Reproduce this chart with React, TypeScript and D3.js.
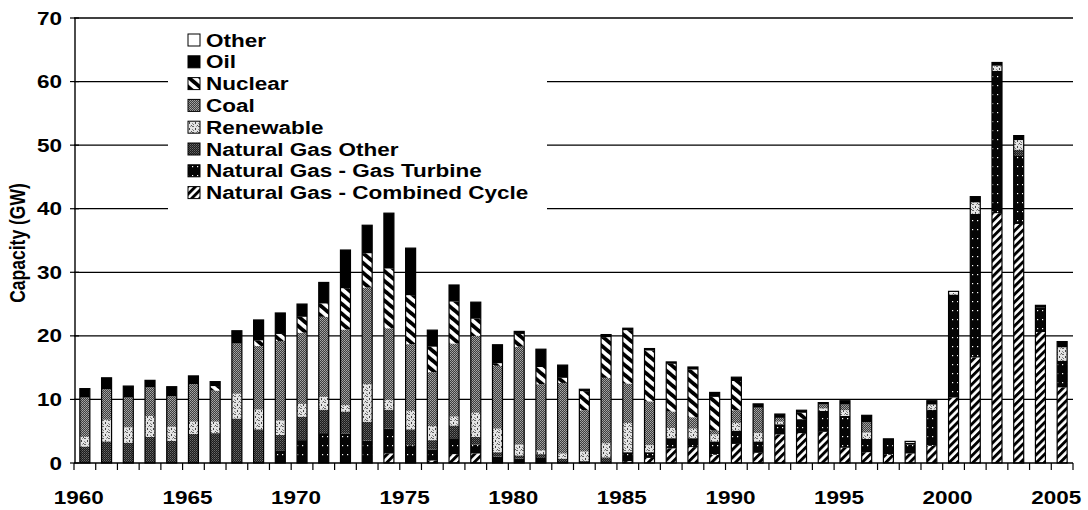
import * as d3 from "d3";

const years = [
  1960, 1961, 1962, 1963, 1964, 1965, 1966, 1967, 1968, 1969,
  1970, 1971, 1972, 1973, 1974, 1975, 1976, 1977, 1978, 1979,
  1980, 1981, 1982, 1983, 1984, 1985, 1986, 1987, 1988, 1989,
  1990, 1991, 1992, 1993, 1994, 1995, 1996, 1997, 1998, 1999,
  2000, 2001, 2002, 2003, 2004, 2005,
];

// GW added per year, one array per fuel
const combinedCycle = [
  0, 0, 0, 0, 0, 0, 0, 0, 0, 0,
  0, 0, 0, 0, 1.5, 0, 0.4, 1.4, 1.5, 0,
  0, 0, 0, 0, 0, 0.3, 0.8, 2.3, 2.5, 1.3,
  3.0, 1.6, 4.5, 4.7, 4.9, 2.4, 1.7, 1.3, 1.5, 2.7,
  10.3, 16.6, 39.3, 37.6, 20.6, 11.9,
];
const gasTurbine = [
  0, 0, 0, 0, 0, 0, 0, 0, 0, 2.0,
  3.6, 4.7, 4.6, 3.5, 3.9, 2.8, 1.7, 2.5, 1.4, 1.0,
  0.7, 0.8, 0, 0, 0, 1.4, 0.9, 1.6, 1.4, 2.1,
  2.1, 1.8, 1.6, 2.2, 3.3, 5.0, 2.1, 2.5, 1.4, 5.7,
  16.2, 22.6, 22.4, 10.7, 3.9, 4.2,
];
const gasOther = [
  2.6, 3.4, 3.2, 4.1, 3.5, 4.6, 4.7, 7.0, 5.3, 2.4,
  3.7, 3.7, 3.5, 3.0, 3.0, 2.5, 1.5, 2.0, 1.2, 0.7,
  0.5, 0.6, 0.7, 0.3, 0.9, 0, 0, 0, 0, 0,
  0, 0, 0, 0, 0, 0, 0, 0, 0, 0,
  0, 0, 0, 1.0, 0, 0,
];
const renewable = [
  1.5, 3.4, 2.4, 3.3, 2.2, 1.9, 1.8, 3.9, 3.1, 2.3,
  2.0, 2.0, 1.0, 5.9, 1.5, 2.9, 2.2, 1.4, 3.8, 3.7,
  1.7, 0.6, 0.8, 1.5, 2.2, 4.6, 1.1, 1.6, 1.5, 1.1,
  1.2, 1.3, 0.4, 0, 0.4, 0.9, 1.0, 0, 0, 0.8,
  0.3, 1.8, 0.8, 1.5, 0, 2.1,
];
const coal = [
  6.2, 4.8, 4.7, 4.5, 4.8, 5.9, 4.9, 7.9, 10.0, 12.5,
  11.2, 12.6, 11.9, 15.2, 11.3, 10.5, 8.5, 11.5, 12.1, 9.9,
  15.4, 10.4, 11.1, 6.5, 10.3, 6.2, 6.9, 2.6, 1.8, 0.6,
  2.0, 4.0, 0.6, 0, 0.6, 0.9, 1.6, 0, 0, 0,
  0, 0, 0, 0, 0, 0,
];
const nuclear = [
  0, 0, 0, 0, 0, 0, 0.7, 0, 0.9, 1.1,
  2.5, 2.1, 6.5, 5.4, 9.4, 7.7, 4.0, 6.6, 2.7, 0.4,
  2.0, 2.7, 0.8, 3.0, 6.4, 8.4, 8.0, 7.5, 7.5, 5.3,
  4.6, 0, 0, 1.0, 0, 0, 0, 0, 0, 0,
  0, 0, 0, 0, 0, 0,
];
const oil = [
  1.4, 1.8, 1.8, 1.1, 1.5, 1.3, 0.7, 2.0, 3.2, 3.3,
  2.0, 3.3, 6.0, 4.4, 8.7, 7.4, 2.6, 2.6, 2.6, 2.9,
  0.4, 2.8, 2.0, 0.3, 0.4, 0.3, 0.3, 0.3, 0.4, 0.7,
  0.6, 0.6, 0.6, 0.4, 0.3, 0.6, 1.1, 0, 0.3, 0.6,
  0, 0.9, 0.5, 0.7, 0.3, 0.9,
];
const other = [
  0, 0, 0, 0, 0, 0, 0, 0, 0, 0,
  0, 0, 0, 0, 0, 0, 0, 0, 0, 0,
  0, 0, 0, 0, 0, 0, 0, 0, 0, 0,
  0, 0, 0, 0, 0, 0, 0, 0, 0.2, 0,
  0.2, 0, 0, 0, 0, 0,
];

// stacking order, bottom first
const seriesKeys = ["cc", "gt", "ngo", "ren", "coal", "nuc", "oil", "other"];
const seriesValues: Record<string, number[]> = {
  cc: combinedCycle, gt: gasTurbine, ngo: gasOther, ren: renewable,
  coal, nuc: nuclear, oil, other,
};
const legendLabels = [
  ["other", "Other"],
  ["oil", "Oil"],
  ["nuc", "Nuclear"],
  ["coal", "Coal"],
  ["ren", "Renewable"],
  ["ngo", "Natural Gas Other"],
  ["gt", "Natural Gas - Gas Turbine"],
  ["cc", "Natural Gas - Combined Cycle"],
];
const yTicks = [0, 10, 20, 30, 40, 50, 60, 70];
const xLabelYears = [1960, 1965, 1970, 1975, 1980, 1985, 1990, 1995, 2000, 2005];

const W = 1088;
const H = 510;
const left = 74;
const right = 1073;
const top = 18;
const bottom = 463;
const FONT = "'Liberation Sans', Arial, Helvetica, sans-serif";
const SX = 1.25; // the scan is stretched sideways

const fills: Record<string, string> = {
  cc: "url(#pCC)", gt: "url(#pGT)", ngo: "url(#pNGO)", ren: "url(#pREN)",
  coal: "url(#pCOAL)", nuc: "url(#pNUC)", oil: "#000", other: "#fff",
};

function SText(props: { x: number; y: number; anchor?: string; size: number; children: any }) {
  return (
    <text
      transform={`translate(${props.x},${props.y}) scale(${SX},1)`}
      textAnchor={props.anchor || "start"}
      fontFamily={FONT}
      fontWeight="bold"
      fontSize={props.size}
      fill="#000"
    >
      {props.children}
    </text>
  );
}

export default function App() {
  const rows = years.map((yr, i) => {
    const r: any = { year: yr };
    seriesKeys.forEach((k) => (r[k] = seriesValues[k][i]));
    return r;
  });
  const stacked = d3.stack<any>().keys(seriesKeys)(rows);
  const totals = rows.map((r) => d3.sum(seriesKeys, (k) => r[k]));

  const x = d3.scaleBand<number>()
    .domain(years)
    .range([left, right])
    .paddingInner(0.54)
    .paddingOuter(0.27);
  const y = d3.scaleLinear().domain([0, 70]).range([bottom, top]);
  const step = x.step();

  const legX = 188;
  const legY0 = 40;
  const legStep = 21.8;

  return (
    <svg width={W} height={H} style={{ position: "absolute", left: 0, top: 0, background: "#fff" }}>
      <defs>
        <pattern id="pCC" patternUnits="userSpaceOnUse" width={5.6} height={5.6} patternTransform="rotate(45)">
          <rect width={5.6} height={5.6} fill="#fff" />
          <rect width={2.9} height={5.6} fill="#000" />
        </pattern>
        <pattern id="pNUC" patternUnits="userSpaceOnUse" width={7.5} height={7.5} patternTransform="rotate(-50)">
          <rect width={7.5} height={7.5} fill="#fff" />
          <rect width={3.8} height={7.5} fill="#000" />
        </pattern>
        <pattern id="pGT" patternUnits="userSpaceOnUse" width={5} height={9}>
          <rect width={5} height={9} fill="#050505" />
          <rect x={2} y={4} width={1.2} height={1.2} fill="#fff" />
        </pattern>
        <pattern id="pNGO" patternUnits="userSpaceOnUse" width={2} height={2}>
          <rect width={2} height={2} fill="#1c1c1c" />
          <rect x={0} y={0} width={1} height={1} fill="#6a6a6a" />
          <rect x={1} y={1} width={1} height={1} fill="#4a4a4a" />
        </pattern>
        <pattern id="pCOAL" patternUnits="userSpaceOnUse" width={2} height={2}>
          <rect width={2} height={2} fill="#3e3e3e" />
          <rect x={0} y={0} width={1} height={1} fill="#a8a8a8" />
          <rect x={1} y={1} width={1} height={1} fill="#949494" />
        </pattern>
        <pattern id="pREN" patternUnits="userSpaceOnUse" width={6} height={6}>
          <rect width={6} height={6} fill="#e4e4e4" />
          <rect x={0} y={0} width={2} height={1} fill="#666" />
          <rect x={3} y={2} width={1} height={2} fill="#444" />
          <rect x={1} y={4} width={1} height={1} fill="#777" />
          <rect x={5} y={5} width={1} height={1} fill="#555" />
          <rect x={4} y={0} width={1} height={1} fill="#999" />
          <rect x={0} y={3} width={1} height={1} fill="#888" />
        </pattern>
      </defs>

      {/* gridlines */}
      {yTicks.filter((t) => t > 0).map((t) => (
        <line key={t} x1={left} x2={right} y1={y(t)} y2={y(t)} stroke="#000" strokeWidth={1.3} />
      ))}

      {/* legend backdrop hides the gridlines behind it */}
      <rect x={168} y={24} width={379} height={189} fill="#fff" />
      {legendLabels.map(([k, label], i) => {
        const cy = legY0 + i * legStep;
        return (
          <g key={k}>
            <rect x={legX} y={cy - 6} width={12} height={12} fill={fills[k]} stroke="#000" strokeWidth={1} />
            <SText x={legX + 18} y={cy + 6.5} size={18}>{label}</SText>
          </g>
        );
      })}

      {/* bars */}
      {stacked.map((s) => (
        <g key={s.key} fill={fills[s.key]}>
          {s.map((d, i) => {
            const h = y(d[0]) - y(d[1]);
            if (h <= 0) return null;
            return <rect key={i} x={x(years[i])} y={y(d[1])} width={x.bandwidth()} height={h} />;
          })}
        </g>
      ))}
      {years.map((yr, i) => (
        <rect
          key={yr}
          x={x(yr)}
          y={y(totals[i])}
          width={x.bandwidth()}
          height={y(0) - y(totals[i])}
          fill="none"
          stroke="#000"
          strokeWidth={1.2}
        />
      ))}

      {/* y axis */}
      <line x1={left + 1} x2={left + 1} y1={top} y2={bottom} stroke="#000" strokeWidth={1.4} />
      {yTicks.map((t) => (
        <g key={t}>
          <line x1={left - 4} x2={left + 5} y1={y(t)} y2={y(t)} stroke="#000" strokeWidth={1.2} />
          <SText x={left - 12} y={y(t) + 6.5} anchor="end" size={18}>{t}</SText>
        </g>
      ))}
      <text
        transform={`translate(25,243) rotate(-90) scale(1,${SX})`}
        textAnchor="middle"
        fontFamily={FONT}
        fontWeight="bold"
        fontSize={17.5}
      >
        Capacity (GW)
      </text>

      {/* x axis */}
      <line x1={left} x2={right} y1={bottom} y2={bottom} stroke="#000" strokeWidth={1.4} />
      {years.concat([2006]).map((yr, i) => (
        <line
          key={yr}
          x1={left + i * step}
          x2={left + i * step}
          y1={bottom}
          y2={bottom + 7}
          stroke="#000"
          strokeWidth={1.2}
        />
      ))}
      {xLabelYears.map((yr) => (
        <SText key={yr} x={(x(yr) as number) + x.bandwidth() / 2 - 6} y={504} anchor="middle" size={18}>
          {yr}
        </SText>
      ))}
    </svg>
  );
}
